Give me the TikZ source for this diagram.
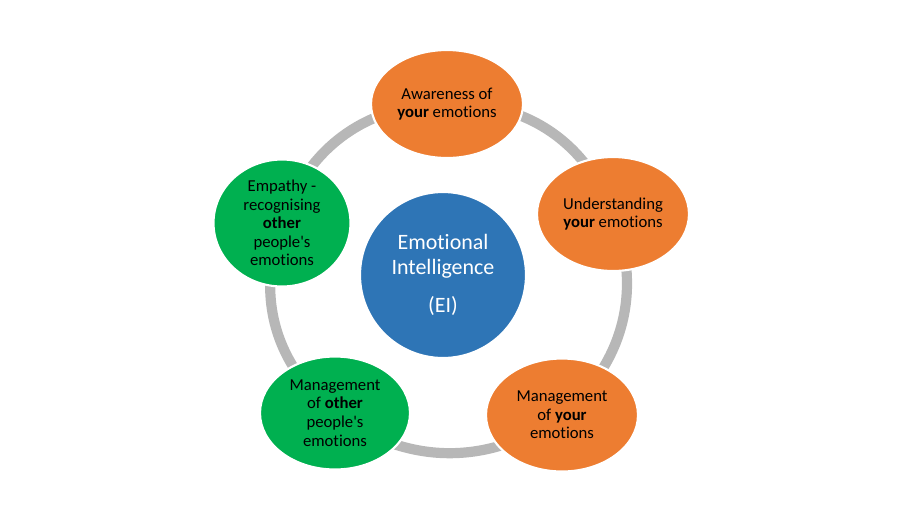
\documentclass[tikz,border=0pt]{standalone}
\usepackage{fontspec}
\setmainfont{Carlito}[Ligatures={TeXOff,CommonOff}]
\usetikzlibrary{shapes.geometric,backgrounds}
\definecolor{eiorange}{HTML}{ED7D31}
\definecolor{eigreen}{HTML}{00B050}
\definecolor{eiblue}{HTML}{2E75B6}
\definecolor{ringgray}{HTML}{B7B7B7}

\begin{document}
\begin{tikzpicture}[x=0.02cm,y=-0.02cm,
  outer/.style={ellipse,draw=white,line width=1.2pt,inner sep=0pt,align=center,
    font=\fontsize{9.5}{10.6}\selectfont},
  selfnode/.style={outer,fill=eiorange,minimum width=3.04cm,minimum height=2.16cm},
  othernode/.style={outer,fill=eigreen},
  ring/.style={line width=5.8pt,draw=ringgray}]
\useasboundingbox (0,0) rectangle (900,515);
% ---------- 中心圆 ----------
\node[circle,fill=eiblue,draw=white,line width=1.2pt,minimum size=3.32cm,
  text=white,align=center,font=\fontsize{12.5}{14.4}\selectfont] (ei) at (443,275)
  {Emotional\\Intelligence\\[7pt](EI)};
% ---------- 外圈五个椭圆 ----------
\node[selfnode] (aware) at (447,104) {Awareness of\\\textbf{your} emotions};
\node[selfnode,minimum height=2.28cm] (under) at (613,214) {Understanding\\\textbf{your} emotions};
\node[selfnode,minimum height=2.26cm] (mgyour) at (562,415) {Management\\of \textbf{your}\\emotions};
\node[othernode,minimum width=3.0cm,minimum height=2.26cm] (mgother) at (335,413)
  {Management\\of \textbf{other}\\people's\\emotions};
\node[othernode,minimum width=2.74cm,minimum height=2.54cm] (empathy) at (282,223)
  {Empathy -\\recognising\\\textbf{other}\\people's\\emotions};
% ---------- 灰色圆环（背景层）----------
\begin{scope}[on background layer]
\draw[ring] (aware.center) to[bend left=36] (under.center)
  to[bend left=36] (mgyour.center) to[bend left=36] (mgother.center)
  to[bend left=36] (empathy.center) to[bend left=36] (aware.center);
\end{scope}
\end{tikzpicture}
\end{document}
